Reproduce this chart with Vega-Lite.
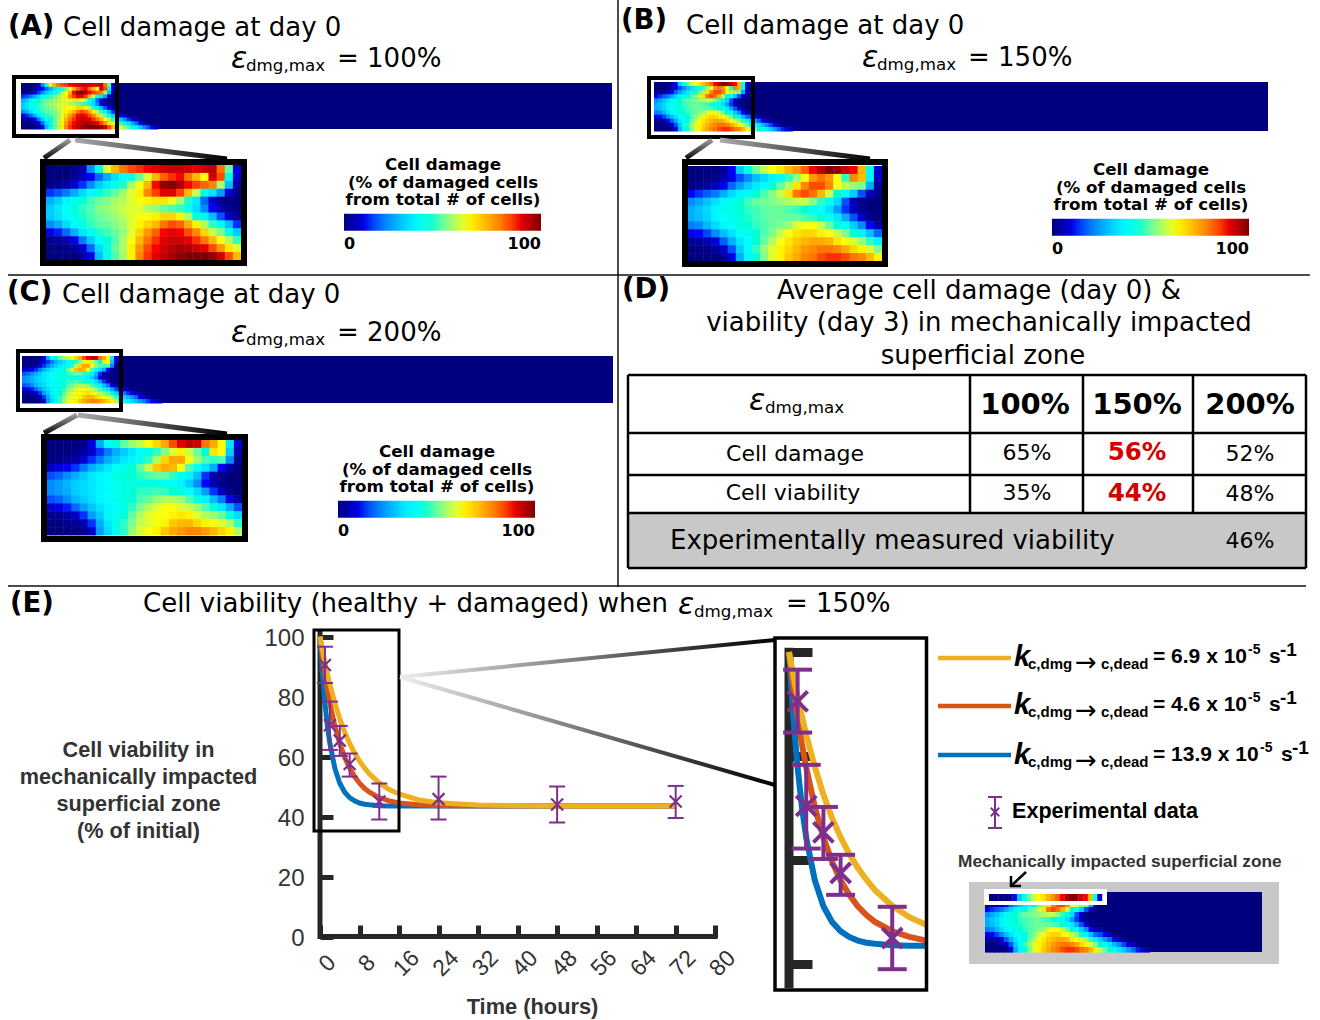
{"$schema":"https://vega.github.io/schema/vega-lite/v6.json","width":1320,"height":1020,"padding":0,"autosize":{"type":"none"},"background":"white",
"config":{"view":{"stroke":null},"axis":{"domain":false,"ticks":false,"labels":false,"grid":false,"titleOpacity":0},
"style":{"h":{"font":"DejaVu Sans","fontSize":26,"align":"left","baseline":"middle","dy":1},"l":{"font":"DejaVu Sans","fontSize":27.5,"fontWeight":"bold","align":"left","baseline":"middle","dy":1},"e":{"font":"DejaVu Sans","fontSize":30,"fontStyle":"italic","align":"left","baseline":"middle"},"s":{"font":"DejaVu Sans","fontSize":16.7,"align":"left","baseline":"middle"},"m":{"font":"DejaVu Sans","fontSize":26,"align":"center","baseline":"middle","dy":1},"c":{"font":"DejaVu Sans","fontSize":22,"align":"center","baseline":"middle"},"b":{"font":"DejaVu Sans","fontSize":29,"fontWeight":"bold","align":"center","baseline":"middle"},"r":{"font":"DejaVu Sans","fontSize":24.5,"fontWeight":"bold","color":"#d40000","align":"center","baseline":"middle"},"k":{"font":"Liberation Sans","fontSize":29,"fontStyle":"italic","fontWeight":"bold","align":"left","baseline":"middle"},"n":{"font":"Liberation Sans","fontSize":15,"fontWeight":"bold","align":"left","baseline":"middle"},"a":{"font":"DejaVu Sans","fontSize":26,"align":"left","baseline":"middle"},"q":{"font":"Liberation Sans","fontSize":21,"fontWeight":"bold","align":"left","baseline":"middle"},"u":{"font":"Liberation Sans","fontSize":14,"fontWeight":"bold","align":"left","baseline":"middle"},"w":{"font":"Liberation Sans","fontSize":19,"fontWeight":"bold","align":"left","baseline":"middle"},"x":{"font":"Liberation Sans","fontSize":21.6,"fontWeight":"bold","align":"left","baseline":"middle"},"z":{"font":"Liberation Sans","fontSize":17.3,"fontWeight":"bold","color":"#333333","align":"left","baseline":"middle"}}},
"data":{"values":[{}]},
"datasets":{
"a":[{"c":0,"r":0,"v":0},{"c":1,"r":0,"v":0},{"c":2,"r":0,"v":0},{"c":3,"r":0,"v":1},{"c":4,"r":0,"v":5},{"c":5,"r":0,"v":22},{"c":6,"r":0,"v":42},{"c":7,"r":0,"v":60},{"c":8,"r":0,"v":72},{"c":9,"r":0,"v":80},{"c":10,"r":0,"v":84},{"c":11,"r":0,"v":86},{"c":12,"r":0,"v":88},{"c":13,"r":0,"v":90},{"c":14,"r":0,"v":92},{"c":15,"r":0,"v":93},{"c":16,"r":0,"v":93},{"c":17,"r":0,"v":92},{"c":18,"r":0,"v":90},{"c":19,"r":0,"v":92},{"c":20,"r":0,"v":94},{"c":21,"r":0,"v":80},{"c":22,"r":0,"v":50},{"c":23,"r":0,"v":10},
{"c":0,"r":1,"v":0},{"c":1,"r":1,"v":0},{"c":2,"r":1,"v":0},{"c":3,"r":1,"v":2},{"c":4,"r":1,"v":6},{"c":5,"r":1,"v":12},{"c":6,"r":1,"v":18},{"c":7,"r":1,"v":26},{"c":8,"r":1,"v":33},{"c":9,"r":1,"v":38},{"c":10,"r":1,"v":42},{"c":11,"r":1,"v":50},{"c":12,"r":1,"v":60},{"c":13,"r":1,"v":72},{"c":14,"r":1,"v":82},{"c":15,"r":1,"v":86},{"c":16,"r":1,"v":88},{"c":17,"r":1,"v":80},{"c":18,"r":1,"v":72},{"c":19,"r":1,"v":62},{"c":20,"r":1,"v":92},{"c":21,"r":1,"v":84},{"c":22,"r":1,"v":42},{"c":23,"r":1,"v":8},
{"c":0,"r":2,"v":1},{"c":1,"r":2,"v":2},{"c":2,"r":2,"v":4},{"c":3,"r":2,"v":8},{"c":4,"r":2,"v":14},{"c":5,"r":2,"v":22},{"c":6,"r":2,"v":30},{"c":7,"r":2,"v":35},{"c":8,"r":2,"v":40},{"c":9,"r":2,"v":45},{"c":10,"r":2,"v":55},{"c":11,"r":2,"v":62},{"c":12,"r":2,"v":72},{"c":13,"r":2,"v":88},{"c":14,"r":2,"v":98},{"c":15,"r":2,"v":100},{"c":16,"r":2,"v":96},{"c":17,"r":2,"v":88},{"c":18,"r":2,"v":85},{"c":19,"r":2,"v":82},{"c":20,"r":2,"v":78},{"c":21,"r":2,"v":55},{"c":22,"r":2,"v":28},{"c":23,"r":2,"v":3},
{"c":0,"r":3,"v":14},{"c":1,"r":3,"v":16},{"c":2,"r":3,"v":20},{"c":3,"r":3,"v":26},{"c":4,"r":3,"v":32},{"c":5,"r":3,"v":38},{"c":6,"r":3,"v":42},{"c":7,"r":3,"v":46},{"c":8,"r":3,"v":50},{"c":9,"r":3,"v":55},{"c":10,"r":3,"v":60},{"c":11,"r":3,"v":64},{"c":12,"r":3,"v":78},{"c":13,"r":3,"v":85},{"c":14,"r":3,"v":90},{"c":15,"r":3,"v":90},{"c":16,"r":3,"v":85},{"c":17,"r":3,"v":72},{"c":18,"r":3,"v":58},{"c":19,"r":3,"v":42},{"c":20,"r":3,"v":34},{"c":21,"r":3,"v":24},{"c":22,"r":3,"v":8},{"c":23,"r":3,"v":1},
{"c":0,"r":4,"v":26},{"c":1,"r":4,"v":30},{"c":2,"r":4,"v":36},{"c":3,"r":4,"v":40},{"c":4,"r":4,"v":44},{"c":5,"r":4,"v":47},{"c":6,"r":4,"v":50},{"c":7,"r":4,"v":52},{"c":8,"r":4,"v":55},{"c":9,"r":4,"v":57},{"c":10,"r":4,"v":60},{"c":11,"r":4,"v":62},{"c":12,"r":4,"v":64},{"c":13,"r":4,"v":66},{"c":14,"r":4,"v":66},{"c":15,"r":4,"v":62},{"c":16,"r":4,"v":55},{"c":17,"r":4,"v":45},{"c":18,"r":4,"v":34},{"c":19,"r":4,"v":18},{"c":20,"r":4,"v":8},{"c":21,"r":4,"v":2},{"c":22,"r":4,"v":0},{"c":23,"r":4,"v":0},
{"c":0,"r":5,"v":30},{"c":1,"r":5,"v":34},{"c":2,"r":5,"v":38},{"c":3,"r":5,"v":42},{"c":4,"r":5,"v":46},{"c":5,"r":5,"v":48},{"c":6,"r":5,"v":52},{"c":7,"r":5,"v":54},{"c":8,"r":5,"v":56},{"c":9,"r":5,"v":58},{"c":10,"r":5,"v":60},{"c":11,"r":5,"v":60},{"c":12,"r":5,"v":56},{"c":13,"r":5,"v":54},{"c":14,"r":5,"v":50},{"c":15,"r":5,"v":48},{"c":16,"r":5,"v":46},{"c":17,"r":5,"v":40},{"c":18,"r":5,"v":32},{"c":19,"r":5,"v":22},{"c":20,"r":5,"v":12},{"c":21,"r":5,"v":5},{"c":22,"r":5,"v":1},{"c":23,"r":5,"v":0},
{"c":0,"r":6,"v":30},{"c":1,"r":6,"v":33},{"c":2,"r":6,"v":37},{"c":3,"r":6,"v":41},{"c":4,"r":6,"v":45},{"c":5,"r":6,"v":48},{"c":6,"r":6,"v":50},{"c":7,"r":6,"v":52},{"c":8,"r":6,"v":54},{"c":9,"r":6,"v":57},{"c":10,"r":6,"v":60},{"c":11,"r":6,"v":62},{"c":12,"r":6,"v":62},{"c":13,"r":6,"v":64},{"c":14,"r":6,"v":68},{"c":15,"r":6,"v":68},{"c":16,"r":6,"v":64},{"c":17,"r":6,"v":56},{"c":18,"r":6,"v":42},{"c":19,"r":6,"v":36},{"c":20,"r":6,"v":28},{"c":21,"r":6,"v":16},{"c":22,"r":6,"v":8},{"c":23,"r":6,"v":2},
{"c":0,"r":7,"v":22},{"c":1,"r":7,"v":26},{"c":2,"r":7,"v":32},{"c":3,"r":7,"v":37},{"c":4,"r":7,"v":42},{"c":5,"r":7,"v":46},{"c":6,"r":7,"v":49},{"c":7,"r":7,"v":50},{"c":8,"r":7,"v":52},{"c":9,"r":7,"v":55},{"c":10,"r":7,"v":60},{"c":11,"r":7,"v":64},{"c":12,"r":7,"v":68},{"c":13,"r":7,"v":72},{"c":14,"r":7,"v":80},{"c":15,"r":7,"v":84},{"c":16,"r":7,"v":82},{"c":17,"r":7,"v":74},{"c":18,"r":7,"v":64},{"c":19,"r":7,"v":56},{"c":20,"r":7,"v":46},{"c":21,"r":7,"v":38},{"c":22,"r":7,"v":28},{"c":23,"r":7,"v":14},
{"c":0,"r":8,"v":10},{"c":1,"r":8,"v":13},{"c":2,"r":8,"v":18},{"c":3,"r":8,"v":26},{"c":4,"r":8,"v":34},{"c":5,"r":8,"v":40},{"c":6,"r":8,"v":45},{"c":7,"r":8,"v":47},{"c":8,"r":8,"v":50},{"c":9,"r":8,"v":54},{"c":10,"r":8,"v":60},{"c":11,"r":8,"v":68},{"c":12,"r":8,"v":76},{"c":13,"r":8,"v":82},{"c":14,"r":8,"v":88},{"c":15,"r":8,"v":90},{"c":16,"r":8,"v":88},{"c":17,"r":8,"v":84},{"c":18,"r":8,"v":78},{"c":19,"r":8,"v":68},{"c":20,"r":8,"v":58},{"c":21,"r":8,"v":52},{"c":22,"r":8,"v":42},{"c":23,"r":8,"v":30},
{"c":0,"r":9,"v":2},{"c":1,"r":9,"v":3},{"c":2,"r":9,"v":5},{"c":3,"r":9,"v":10},{"c":4,"r":9,"v":20},{"c":5,"r":9,"v":30},{"c":6,"r":9,"v":38},{"c":7,"r":9,"v":44},{"c":8,"r":9,"v":48},{"c":9,"r":9,"v":56},{"c":10,"r":9,"v":62},{"c":11,"r":9,"v":72},{"c":12,"r":9,"v":80},{"c":13,"r":9,"v":86},{"c":14,"r":9,"v":90},{"c":15,"r":9,"v":92},{"c":16,"r":9,"v":92},{"c":17,"r":9,"v":90},{"c":18,"r":9,"v":86},{"c":19,"r":9,"v":80},{"c":20,"r":9,"v":72},{"c":21,"r":9,"v":62},{"c":22,"r":9,"v":56},{"c":23,"r":9,"v":46},
{"c":0,"r":10,"v":0},{"c":1,"r":10,"v":1},{"c":2,"r":10,"v":1},{"c":3,"r":10,"v":3},{"c":4,"r":10,"v":8},{"c":5,"r":10,"v":18},{"c":6,"r":10,"v":32},{"c":7,"r":10,"v":42},{"c":8,"r":10,"v":50},{"c":9,"r":10,"v":56},{"c":10,"r":10,"v":64},{"c":11,"r":10,"v":76},{"c":12,"r":10,"v":84},{"c":13,"r":10,"v":88},{"c":14,"r":10,"v":92},{"c":15,"r":10,"v":94},{"c":16,"r":10,"v":96},{"c":17,"r":10,"v":95},{"c":18,"r":10,"v":92},{"c":19,"r":10,"v":90},{"c":20,"r":10,"v":84},{"c":21,"r":10,"v":76},{"c":22,"r":10,"v":66},{"c":23,"r":10,"v":60},
{"c":0,"r":11,"v":0},{"c":1,"r":11,"v":0},{"c":2,"r":11,"v":0},{"c":3,"r":11,"v":0},{"c":4,"r":11,"v":3},{"c":5,"r":11,"v":10},{"c":6,"r":11,"v":28},{"c":7,"r":11,"v":40},{"c":8,"r":11,"v":48},{"c":9,"r":11,"v":55},{"c":10,"r":11,"v":64},{"c":11,"r":11,"v":78},{"c":12,"r":11,"v":86},{"c":13,"r":11,"v":90},{"c":14,"r":11,"v":93},{"c":15,"r":11,"v":96},{"c":16,"r":11,"v":98},{"c":17,"r":11,"v":100},{"c":18,"r":11,"v":100},{"c":19,"r":11,"v":100},{"c":20,"r":11,"v":98},{"c":21,"r":11,"v":92},{"c":22,"r":11,"v":84},{"c":23,"r":11,"v":72},
{"c":24,"r":7,"v":6},{"c":24,"r":8,"v":20},{"c":24,"r":9,"v":38},{"c":24,"r":10,"v":52},{"c":24,"r":11,"v":68},{"c":25,"r":8,"v":12},{"c":25,"r":9,"v":30},{"c":25,"r":10,"v":46},{"c":25,"r":11,"v":60},{"c":26,"r":8,"v":6},{"c":26,"r":9,"v":22},{"c":26,"r":10,"v":40},{"c":26,"r":11,"v":54},{"c":27,"r":9,"v":14},{"c":27,"r":10,"v":34},{"c":27,"r":11,"v":48},{"c":28,"r":9,"v":8},{"c":28,"r":10,"v":26},{"c":28,"r":11,"v":42},{"c":29,"r":9,"v":4},{"c":29,"r":10,"v":18},{"c":29,"r":11,"v":36},{"c":30,"r":10,"v":12},{"c":30,"r":11,"v":30},{"c":31,"r":10,"v":6},{"c":31,"r":11,"v":22},{"c":32,"r":11,"v":16},{"c":33,"r":11,"v":10},{"c":34,"r":11,"v":6}],
"b":[{"c":0,"r":0,"v":0},{"c":1,"r":0,"v":0},{"c":2,"r":0,"v":0},{"c":3,"r":0,"v":0},{"c":4,"r":0,"v":2},{"c":5,"r":0,"v":12},{"c":6,"r":0,"v":30},{"c":7,"r":0,"v":42},{"c":8,"r":0,"v":50},{"c":9,"r":0,"v":58},{"c":10,"r":0,"v":62},{"c":11,"r":0,"v":66},{"c":12,"r":0,"v":72},{"c":13,"r":0,"v":76},{"c":14,"r":0,"v":82},{"c":15,"r":0,"v":88},{"c":16,"r":0,"v":94},{"c":17,"r":0,"v":100},{"c":18,"r":0,"v":98},{"c":19,"r":0,"v":92},{"c":20,"r":0,"v":88},{"c":21,"r":0,"v":72},{"c":22,"r":0,"v":40},{"c":23,"r":0,"v":8},
{"c":0,"r":1,"v":0},{"c":1,"r":1,"v":0},{"c":2,"r":1,"v":0},{"c":3,"r":1,"v":1},{"c":4,"r":1,"v":5},{"c":5,"r":1,"v":10},{"c":6,"r":1,"v":16},{"c":7,"r":1,"v":22},{"c":8,"r":1,"v":28},{"c":9,"r":1,"v":32},{"c":10,"r":1,"v":36},{"c":11,"r":1,"v":40},{"c":12,"r":1,"v":46},{"c":13,"r":1,"v":54},{"c":14,"r":1,"v":62},{"c":15,"r":1,"v":76},{"c":16,"r":1,"v":80},{"c":17,"r":1,"v":76},{"c":18,"r":1,"v":62},{"c":19,"r":1,"v":46},{"c":20,"r":1,"v":78},{"c":21,"r":1,"v":72},{"c":22,"r":1,"v":36},{"c":23,"r":1,"v":6},
{"c":0,"r":2,"v":1},{"c":1,"r":2,"v":2},{"c":2,"r":2,"v":3},{"c":3,"r":2,"v":6},{"c":4,"r":2,"v":12},{"c":5,"r":2,"v":18},{"c":6,"r":2,"v":24},{"c":7,"r":2,"v":30},{"c":8,"r":2,"v":34},{"c":9,"r":2,"v":38},{"c":10,"r":2,"v":44},{"c":11,"r":2,"v":50},{"c":12,"r":2,"v":56},{"c":13,"r":2,"v":66},{"c":14,"r":2,"v":78},{"c":15,"r":2,"v":84},{"c":16,"r":2,"v":84},{"c":17,"r":2,"v":78},{"c":18,"r":2,"v":62},{"c":19,"r":2,"v":58},{"c":20,"r":2,"v":54},{"c":21,"r":2,"v":52},{"c":22,"r":2,"v":26},{"c":23,"r":2,"v":3},
{"c":0,"r":3,"v":12},{"c":1,"r":3,"v":14},{"c":2,"r":3,"v":17},{"c":3,"r":3,"v":20},{"c":4,"r":3,"v":26},{"c":5,"r":3,"v":32},{"c":6,"r":3,"v":36},{"c":7,"r":3,"v":40},{"c":8,"r":3,"v":44},{"c":9,"r":3,"v":48},{"c":10,"r":3,"v":52},{"c":11,"r":3,"v":58},{"c":12,"r":3,"v":66},{"c":13,"r":3,"v":80},{"c":14,"r":3,"v":84},{"c":15,"r":3,"v":80},{"c":16,"r":3,"v":72},{"c":17,"r":3,"v":58},{"c":18,"r":3,"v":44},{"c":19,"r":3,"v":40},{"c":20,"r":3,"v":30},{"c":21,"r":3,"v":16},{"c":22,"r":3,"v":6},{"c":23,"r":3,"v":1},
{"c":0,"r":4,"v":22},{"c":1,"r":4,"v":25},{"c":2,"r":4,"v":29},{"c":3,"r":4,"v":33},{"c":4,"r":4,"v":37},{"c":5,"r":4,"v":41},{"c":6,"r":4,"v":44},{"c":7,"r":4,"v":47},{"c":8,"r":4,"v":50},{"c":9,"r":4,"v":51},{"c":10,"r":4,"v":52},{"c":11,"r":4,"v":54},{"c":12,"r":4,"v":56},{"c":13,"r":4,"v":58},{"c":14,"r":4,"v":58},{"c":15,"r":4,"v":52},{"c":16,"r":4,"v":46},{"c":17,"r":4,"v":40},{"c":18,"r":4,"v":32},{"c":19,"r":4,"v":16},{"c":20,"r":4,"v":6},{"c":21,"r":4,"v":1},{"c":22,"r":4,"v":0},{"c":23,"r":4,"v":0},
{"c":0,"r":5,"v":26},{"c":1,"r":5,"v":29},{"c":2,"r":5,"v":32},{"c":3,"r":5,"v":36},{"c":4,"r":5,"v":40},{"c":5,"r":5,"v":42},{"c":6,"r":5,"v":44},{"c":7,"r":5,"v":46},{"c":8,"r":5,"v":47},{"c":9,"r":5,"v":49},{"c":10,"r":5,"v":50},{"c":11,"r":5,"v":50},{"c":12,"r":5,"v":48},{"c":13,"r":5,"v":46},{"c":14,"r":5,"v":44},{"c":15,"r":5,"v":40},{"c":16,"r":5,"v":38},{"c":17,"r":5,"v":33},{"c":18,"r":5,"v":24},{"c":19,"r":5,"v":14},{"c":20,"r":5,"v":6},{"c":21,"r":5,"v":2},{"c":22,"r":5,"v":0},{"c":23,"r":5,"v":0},
{"c":0,"r":6,"v":26},{"c":1,"r":6,"v":28},{"c":2,"r":6,"v":31},{"c":3,"r":6,"v":36},{"c":4,"r":6,"v":38},{"c":5,"r":6,"v":41},{"c":6,"r":6,"v":43},{"c":7,"r":6,"v":45},{"c":8,"r":6,"v":47},{"c":9,"r":6,"v":49},{"c":10,"r":6,"v":50},{"c":11,"r":6,"v":50},{"c":12,"r":6,"v":50},{"c":13,"r":6,"v":50},{"c":14,"r":6,"v":48},{"c":15,"r":6,"v":46},{"c":16,"r":6,"v":44},{"c":17,"r":6,"v":40},{"c":18,"r":6,"v":34},{"c":19,"r":6,"v":26},{"c":20,"r":6,"v":16},{"c":21,"r":6,"v":8},{"c":22,"r":6,"v":2},{"c":23,"r":6,"v":0},
{"c":0,"r":7,"v":20},{"c":1,"r":7,"v":22},{"c":2,"r":7,"v":27},{"c":3,"r":7,"v":32},{"c":4,"r":7,"v":36},{"c":5,"r":7,"v":39},{"c":6,"r":7,"v":42},{"c":7,"r":7,"v":44},{"c":8,"r":7,"v":46},{"c":9,"r":7,"v":48},{"c":10,"r":7,"v":50},{"c":11,"r":7,"v":52},{"c":12,"r":7,"v":54},{"c":13,"r":7,"v":60},{"c":14,"r":7,"v":62},{"c":15,"r":7,"v":62},{"c":16,"r":7,"v":58},{"c":17,"r":7,"v":50},{"c":18,"r":7,"v":44},{"c":19,"r":7,"v":38},{"c":20,"r":7,"v":30},{"c":21,"r":7,"v":22},{"c":22,"r":7,"v":12},{"c":23,"r":7,"v":4},
{"c":0,"r":8,"v":10},{"c":1,"r":8,"v":12},{"c":2,"r":8,"v":15},{"c":3,"r":8,"v":22},{"c":4,"r":8,"v":28},{"c":5,"r":8,"v":33},{"c":6,"r":8,"v":38},{"c":7,"r":8,"v":40},{"c":8,"r":8,"v":44},{"c":9,"r":8,"v":48},{"c":10,"r":8,"v":52},{"c":11,"r":8,"v":58},{"c":12,"r":8,"v":62},{"c":13,"r":8,"v":66},{"c":14,"r":8,"v":68},{"c":15,"r":8,"v":68},{"c":16,"r":8,"v":64},{"c":17,"r":8,"v":62},{"c":18,"r":8,"v":58},{"c":19,"r":8,"v":52},{"c":20,"r":8,"v":44},{"c":21,"r":8,"v":36},{"c":22,"r":8,"v":28},{"c":23,"r":8,"v":18},
{"c":0,"r":9,"v":2},{"c":1,"r":9,"v":3},{"c":2,"r":9,"v":5},{"c":3,"r":9,"v":9},{"c":4,"r":9,"v":17},{"c":5,"r":9,"v":26},{"c":6,"r":9,"v":34},{"c":7,"r":9,"v":38},{"c":8,"r":9,"v":44},{"c":9,"r":9,"v":50},{"c":10,"r":9,"v":56},{"c":11,"r":9,"v":62},{"c":12,"r":9,"v":66},{"c":13,"r":9,"v":70},{"c":14,"r":9,"v":72},{"c":15,"r":9,"v":74},{"c":16,"r":9,"v":74},{"c":17,"r":9,"v":72},{"c":18,"r":9,"v":66},{"c":19,"r":9,"v":62},{"c":20,"r":9,"v":60},{"c":21,"r":9,"v":54},{"c":22,"r":9,"v":46},{"c":23,"r":9,"v":36},
{"c":0,"r":10,"v":0},{"c":1,"r":10,"v":1},{"c":2,"r":10,"v":1},{"c":3,"r":10,"v":3},{"c":4,"r":10,"v":7},{"c":5,"r":10,"v":16},{"c":6,"r":10,"v":30},{"c":7,"r":10,"v":38},{"c":8,"r":10,"v":46},{"c":9,"r":10,"v":54},{"c":10,"r":10,"v":60},{"c":11,"r":10,"v":64},{"c":12,"r":10,"v":68},{"c":13,"r":10,"v":72},{"c":14,"r":10,"v":76},{"c":15,"r":10,"v":78},{"c":16,"r":10,"v":80},{"c":17,"r":10,"v":80},{"c":18,"r":10,"v":78},{"c":19,"r":10,"v":74},{"c":20,"r":10,"v":68},{"c":21,"r":10,"v":64},{"c":22,"r":10,"v":60},{"c":23,"r":10,"v":52},
{"c":0,"r":11,"v":0},{"c":1,"r":11,"v":0},{"c":2,"r":11,"v":0},{"c":3,"r":11,"v":0},{"c":4,"r":11,"v":2},{"c":5,"r":11,"v":10},{"c":6,"r":11,"v":26},{"c":7,"r":11,"v":36},{"c":8,"r":11,"v":44},{"c":9,"r":11,"v":52},{"c":10,"r":11,"v":60},{"c":11,"r":11,"v":64},{"c":12,"r":11,"v":70},{"c":13,"r":11,"v":74},{"c":14,"r":11,"v":78},{"c":15,"r":11,"v":80},{"c":16,"r":11,"v":84},{"c":17,"r":11,"v":86},{"c":18,"r":11,"v":86},{"c":19,"r":11,"v":84},{"c":20,"r":11,"v":80},{"c":21,"r":11,"v":78},{"c":22,"r":11,"v":72},{"c":23,"r":11,"v":64},
{"c":24,"r":7,"v":5},{"c":24,"r":8,"v":16},{"c":24,"r":9,"v":30},{"c":24,"r":10,"v":44},{"c":24,"r":11,"v":56},{"c":25,"r":8,"v":10},{"c":25,"r":9,"v":24},{"c":25,"r":10,"v":38},{"c":25,"r":11,"v":50},{"c":26,"r":8,"v":5},{"c":26,"r":9,"v":18},{"c":26,"r":10,"v":34},{"c":26,"r":11,"v":44},{"c":27,"r":9,"v":12},{"c":27,"r":10,"v":28},{"c":27,"r":11,"v":40},{"c":28,"r":9,"v":7},{"c":28,"r":10,"v":22},{"c":28,"r":11,"v":34},{"c":29,"r":9,"v":3},{"c":29,"r":10,"v":15},{"c":29,"r":11,"v":30},{"c":30,"r":10,"v":10},{"c":30,"r":11,"v":24},{"c":31,"r":10,"v":5},{"c":31,"r":11,"v":18},{"c":32,"r":11,"v":13},{"c":33,"r":11,"v":8},{"c":34,"r":11,"v":5}],
"g":[{"c":0,"r":0,"v":0},{"c":1,"r":0,"v":0},{"c":2,"r":0,"v":0},{"c":3,"r":0,"v":0},{"c":4,"r":0,"v":1},{"c":5,"r":0,"v":10},{"c":6,"r":0,"v":26},{"c":7,"r":0,"v":38},{"c":8,"r":0,"v":44},{"c":9,"r":0,"v":50},{"c":10,"r":0,"v":54},{"c":11,"r":0,"v":58},{"c":12,"r":0,"v":62},{"c":13,"r":0,"v":68},{"c":14,"r":0,"v":74},{"c":15,"r":0,"v":84},{"c":16,"r":0,"v":90},{"c":17,"r":0,"v":94},{"c":18,"r":0,"v":92},{"c":19,"r":0,"v":80},{"c":20,"r":0,"v":74},{"c":21,"r":0,"v":62},{"c":22,"r":0,"v":34},{"c":23,"r":0,"v":8},
{"c":0,"r":1,"v":0},{"c":1,"r":1,"v":0},{"c":2,"r":1,"v":0},{"c":3,"r":1,"v":1},{"c":4,"r":1,"v":3},{"c":5,"r":1,"v":8},{"c":6,"r":1,"v":14},{"c":7,"r":1,"v":20},{"c":8,"r":1,"v":26},{"c":9,"r":1,"v":30},{"c":10,"r":1,"v":34},{"c":11,"r":1,"v":38},{"c":12,"r":1,"v":42},{"c":13,"r":1,"v":46},{"c":14,"r":1,"v":52},{"c":15,"r":1,"v":60},{"c":16,"r":1,"v":64},{"c":17,"r":1,"v":58},{"c":18,"r":1,"v":50},{"c":19,"r":1,"v":44},{"c":20,"r":1,"v":66},{"c":21,"r":1,"v":62},{"c":22,"r":1,"v":30},{"c":23,"r":1,"v":5},
{"c":0,"r":2,"v":0},{"c":1,"r":2,"v":1},{"c":2,"r":2,"v":2},{"c":3,"r":2,"v":4},{"c":4,"r":2,"v":8},{"c":5,"r":2,"v":14},{"c":6,"r":2,"v":20},{"c":7,"r":2,"v":26},{"c":8,"r":2,"v":30},{"c":9,"r":2,"v":34},{"c":10,"r":2,"v":36},{"c":11,"r":2,"v":40},{"c":12,"r":2,"v":46},{"c":13,"r":2,"v":56},{"c":14,"r":2,"v":68},{"c":15,"r":2,"v":74},{"c":16,"r":2,"v":74},{"c":17,"r":2,"v":62},{"c":18,"r":2,"v":54},{"c":19,"r":2,"v":48},{"c":20,"r":2,"v":46},{"c":21,"r":2,"v":48},{"c":22,"r":2,"v":22},{"c":23,"r":2,"v":2},
{"c":0,"r":3,"v":7},{"c":1,"r":3,"v":9},{"c":2,"r":3,"v":11},{"c":3,"r":3,"v":14},{"c":4,"r":3,"v":20},{"c":5,"r":3,"v":26},{"c":6,"r":3,"v":30},{"c":7,"r":3,"v":34},{"c":8,"r":3,"v":38},{"c":9,"r":3,"v":40},{"c":10,"r":3,"v":44},{"c":11,"r":3,"v":50},{"c":12,"r":3,"v":58},{"c":13,"r":3,"v":70},{"c":14,"r":3,"v":74},{"c":15,"r":3,"v":72},{"c":16,"r":3,"v":62},{"c":17,"r":3,"v":48},{"c":18,"r":3,"v":38},{"c":19,"r":3,"v":34},{"c":20,"r":3,"v":26},{"c":21,"r":3,"v":12},{"c":22,"r":3,"v":4},{"c":23,"r":3,"v":0},
{"c":0,"r":4,"v":16},{"c":1,"r":4,"v":18},{"c":2,"r":4,"v":22},{"c":3,"r":4,"v":26},{"c":4,"r":4,"v":30},{"c":5,"r":4,"v":34},{"c":6,"r":4,"v":36},{"c":7,"r":4,"v":38},{"c":8,"r":4,"v":42},{"c":9,"r":4,"v":44},{"c":10,"r":4,"v":44},{"c":11,"r":4,"v":46},{"c":12,"r":4,"v":48},{"c":13,"r":4,"v":50},{"c":14,"r":4,"v":50},{"c":15,"r":4,"v":46},{"c":16,"r":4,"v":40},{"c":17,"r":4,"v":36},{"c":18,"r":4,"v":28},{"c":19,"r":4,"v":14},{"c":20,"r":4,"v":4},{"c":21,"r":4,"v":1},{"c":22,"r":4,"v":0},{"c":23,"r":4,"v":0},
{"c":0,"r":5,"v":22},{"c":1,"r":5,"v":24},{"c":2,"r":5,"v":27},{"c":3,"r":5,"v":30},{"c":4,"r":5,"v":32},{"c":5,"r":5,"v":34},{"c":6,"r":5,"v":36},{"c":7,"r":5,"v":38},{"c":8,"r":5,"v":40},{"c":9,"r":5,"v":42},{"c":10,"r":5,"v":42},{"c":11,"r":5,"v":42},{"c":12,"r":5,"v":42},{"c":13,"r":5,"v":42},{"c":14,"r":5,"v":40},{"c":15,"r":5,"v":38},{"c":16,"r":5,"v":36},{"c":17,"r":5,"v":30},{"c":18,"r":5,"v":22},{"c":19,"r":5,"v":12},{"c":20,"r":5,"v":5},{"c":21,"r":5,"v":1},{"c":22,"r":5,"v":0},{"c":23,"r":5,"v":0},
{"c":0,"r":6,"v":22},{"c":1,"r":6,"v":24},{"c":2,"r":6,"v":26},{"c":3,"r":6,"v":30},{"c":4,"r":6,"v":32},{"c":5,"r":6,"v":34},{"c":6,"r":6,"v":36},{"c":7,"r":6,"v":38},{"c":8,"r":6,"v":40},{"c":9,"r":6,"v":42},{"c":10,"r":6,"v":44},{"c":11,"r":6,"v":46},{"c":12,"r":6,"v":46},{"c":13,"r":6,"v":47},{"c":14,"r":6,"v":46},{"c":15,"r":6,"v":44},{"c":16,"r":6,"v":42},{"c":17,"r":6,"v":38},{"c":18,"r":6,"v":32},{"c":19,"r":6,"v":24},{"c":20,"r":6,"v":14},{"c":21,"r":6,"v":6},{"c":22,"r":6,"v":1},{"c":23,"r":6,"v":0},
{"c":0,"r":7,"v":16},{"c":1,"r":7,"v":18},{"c":2,"r":7,"v":22},{"c":3,"r":7,"v":27},{"c":4,"r":7,"v":30},{"c":5,"r":7,"v":33},{"c":6,"r":7,"v":36},{"c":7,"r":7,"v":37},{"c":8,"r":7,"v":40},{"c":9,"r":7,"v":42},{"c":10,"r":7,"v":44},{"c":11,"r":7,"v":48},{"c":12,"r":7,"v":50},{"c":13,"r":7,"v":54},{"c":14,"r":7,"v":56},{"c":15,"r":7,"v":56},{"c":16,"r":7,"v":54},{"c":17,"r":7,"v":48},{"c":18,"r":7,"v":42},{"c":19,"r":7,"v":36},{"c":20,"r":7,"v":28},{"c":21,"r":7,"v":20},{"c":22,"r":7,"v":10},{"c":23,"r":7,"v":3},
{"c":0,"r":8,"v":8},{"c":1,"r":8,"v":10},{"c":2,"r":8,"v":13},{"c":3,"r":8,"v":18},{"c":4,"r":8,"v":24},{"c":5,"r":8,"v":29},{"c":6,"r":8,"v":33},{"c":7,"r":8,"v":36},{"c":8,"r":8,"v":38},{"c":9,"r":8,"v":42},{"c":10,"r":8,"v":46},{"c":11,"r":8,"v":52},{"c":12,"r":8,"v":56},{"c":13,"r":8,"v":60},{"c":14,"r":8,"v":62},{"c":15,"r":8,"v":62},{"c":16,"r":8,"v":60},{"c":17,"r":8,"v":58},{"c":18,"r":8,"v":54},{"c":19,"r":8,"v":48},{"c":20,"r":8,"v":42},{"c":21,"r":8,"v":34},{"c":22,"r":8,"v":26},{"c":23,"r":8,"v":16},
{"c":0,"r":9,"v":2},{"c":1,"r":9,"v":2},{"c":2,"r":9,"v":4},{"c":3,"r":9,"v":7},{"c":4,"r":9,"v":14},{"c":5,"r":9,"v":24},{"c":6,"r":9,"v":30},{"c":7,"r":9,"v":36},{"c":8,"r":9,"v":40},{"c":9,"r":9,"v":44},{"c":10,"r":9,"v":50},{"c":11,"r":9,"v":56},{"c":12,"r":9,"v":60},{"c":13,"r":9,"v":62},{"c":14,"r":9,"v":62},{"c":15,"r":9,"v":64},{"c":16,"r":9,"v":66},{"c":17,"r":9,"v":64},{"c":18,"r":9,"v":60},{"c":19,"r":9,"v":56},{"c":20,"r":9,"v":54},{"c":21,"r":9,"v":50},{"c":22,"r":9,"v":42},{"c":23,"r":9,"v":32},
{"c":0,"r":10,"v":0},{"c":1,"r":10,"v":0},{"c":2,"r":10,"v":1},{"c":3,"r":10,"v":2},{"c":4,"r":10,"v":5},{"c":5,"r":10,"v":14},{"c":6,"r":10,"v":26},{"c":7,"r":10,"v":34},{"c":8,"r":10,"v":42},{"c":9,"r":10,"v":46},{"c":10,"r":10,"v":52},{"c":11,"r":10,"v":58},{"c":12,"r":10,"v":60},{"c":13,"r":10,"v":62},{"c":14,"r":10,"v":64},{"c":15,"r":10,"v":70},{"c":16,"r":10,"v":72},{"c":17,"r":10,"v":72},{"c":18,"r":10,"v":68},{"c":19,"r":10,"v":64},{"c":20,"r":10,"v":62},{"c":21,"r":10,"v":60},{"c":22,"r":10,"v":56},{"c":23,"r":10,"v":46},
{"c":0,"r":11,"v":0},{"c":1,"r":11,"v":0},{"c":2,"r":11,"v":0},{"c":3,"r":11,"v":0},{"c":4,"r":11,"v":2},{"c":5,"r":11,"v":8},{"c":6,"r":11,"v":24},{"c":7,"r":11,"v":32},{"c":8,"r":11,"v":40},{"c":9,"r":11,"v":46},{"c":10,"r":11,"v":54},{"c":11,"r":11,"v":60},{"c":12,"r":11,"v":62},{"c":13,"r":11,"v":64},{"c":14,"r":11,"v":70},{"c":15,"r":11,"v":74},{"c":16,"r":11,"v":76},{"c":17,"r":11,"v":78},{"c":18,"r":11,"v":78},{"c":19,"r":11,"v":76},{"c":20,"r":11,"v":72},{"c":21,"r":11,"v":68},{"c":22,"r":11,"v":64},{"c":23,"r":11,"v":56},
{"c":24,"r":7,"v":4},{"c":24,"r":8,"v":12},{"c":24,"r":9,"v":24},{"c":24,"r":10,"v":36},{"c":24,"r":11,"v":46},{"c":25,"r":8,"v":8},{"c":25,"r":9,"v":20},{"c":25,"r":10,"v":32},{"c":25,"r":11,"v":40},{"c":26,"r":8,"v":4},{"c":26,"r":9,"v":14},{"c":26,"r":10,"v":28},{"c":26,"r":11,"v":36},{"c":27,"r":9,"v":10},{"c":27,"r":10,"v":24},{"c":27,"r":11,"v":32},{"c":28,"r":9,"v":6},{"c":28,"r":10,"v":18},{"c":28,"r":11,"v":28},{"c":29,"r":9,"v":3},{"c":29,"r":10,"v":12},{"c":29,"r":11,"v":24},{"c":30,"r":10,"v":8},{"c":30,"r":11,"v":20},{"c":31,"r":10,"v":4},{"c":31,"r":11,"v":15},{"c":32,"r":11,"v":11},{"c":33,"r":11,"v":7},{"c":34,"r":11,"v":4}],
"curves":[{"k":"b","t":0,"v":100},{"k":"b","t":0.5,"v":87.5},{"k":"b","t":1,"v":77.8},{"k":"b","t":1.5,"v":70.2},{"k":"b","t":2,"v":64.3},{"k":"b","t":3,"v":56.1},{"k":"b","t":4,"v":51.1},{"k":"b","t":5,"v":48.1},{"k":"b","t":6,"v":46.3},{"k":"b","t":7,"v":45.2},{"k":"b","t":8,"v":44.5},{"k":"b","t":9,"v":44.1},{"k":"b","t":10,"v":43.9},{"k":"b","t":12,"v":43.6},{"k":"b","t":14,"v":43.5},{"k":"b","t":16,"v":43.5},{"k":"b","t":24,"v":43.5},{"k":"b","t":48,"v":43.5},{"k":"b","t":72,"v":43.5},
{"k":"o","t":0,"v":100},{"k":"o","t":0.5,"v":93.3},{"k":"o","t":1,"v":87.5},{"k":"o","t":1.5,"v":82.3},{"k":"o","t":2,"v":77.8},{"k":"o","t":3,"v":70.2},{"k":"o","t":4,"v":64.3},{"k":"o","t":5,"v":59.7},{"k":"o","t":6,"v":56.1},{"k":"o","t":7,"v":53.3},{"k":"o","t":8,"v":51.1},{"k":"o","t":9,"v":49.4},{"k":"o","t":10,"v":48.1},{"k":"o","t":12,"v":46.3},{"k":"o","t":14,"v":45.2},{"k":"o","t":16,"v":44.5},{"k":"o","t":20,"v":43.9},{"k":"o","t":24,"v":43.6},{"k":"o","t":48,"v":43.5},{"k":"o","t":72,"v":43.5},
{"k":"y","t":0,"v":100},{"k":"y","t":0.5,"v":95.5},{"k":"y","t":1,"v":91.4},{"k":"y","t":1.5,"v":87.6},{"k":"y","t":2,"v":84.1},{"k":"y","t":3,"v":77.9},{"k":"y","t":4,"v":72.6},{"k":"y","t":5,"v":68.1},{"k":"y","t":6,"v":64.4},{"k":"y","t":7,"v":61.2},{"k":"y","t":8,"v":58.5},{"k":"y","t":9,"v":56.2},{"k":"y","t":10,"v":54.2},{"k":"y","t":12,"v":51.2},{"k":"y","t":14,"v":49},{"k":"y","t":16,"v":47.5},{"k":"y","t":20,"v":45.5},{"k":"y","t":24,"v":44.6},{"k":"y","t":32,"v":43.8},{"k":"y","t":48,"v":43.5},{"k":"y","t":72,"v":43.5}],
"exp":[{"t":1,"v":90.5,"lo":84.5,"hi":96.6},{"t":2,"v":70.4,"lo":62.2,"hi":78.3},{"t":4,"v":65.3,"lo":60.2,"hi":70.2},{"t":6,"v":57.5,"lo":53.3,"hi":61},{"t":12,"v":45,"lo":39,"hi":51},{"t":24,"v":45.8,"lo":39,"hi":53.3},{"t":48,"v":44,"lo":38,"hi":50},{"t":72,"v":45,"lo":39.5,"hi":50.2}]
},
"resolve":{"scale":{"x":"independent","y":"independent","color":"independent"},"axis":{"x":"independent","y":"independent"},"legend":{"color":"independent"}},
"layer":[
{"layer":[
{"mark":{"type":"rect","fill":"#00007f"},"encoding":{"x":{"datum":21,"scale":{"domain":[0,1320],"nice":false}},"x2":{"datum":612},"y":{"datum":83,"scale":{"domain":[0,1020],"reverse":true,"nice":false}},"y2":{"datum":129}}},
{"mark":{"type":"rect","fill":"#00007f"},"encoding":{"x":{"datum":654},"x2":{"datum":1268},"y":{"datum":82},"y2":{"datum":131}}},
{"mark":{"type":"rect","fill":"#00007f"},"encoding":{"x":{"datum":22},"x2":{"datum":613},"y":{"datum":356},"y2":{"datum":403}}},
{"mark":{"type":"rect","fill":"#c8c8c8"},"encoding":{"x":{"datum":969},"x2":{"datum":1279},"y":{"datum":882},"y2":{"datum":964}}},
{"mark":{"type":"rect","fill":"#00007f"},"encoding":{"x":{"datum":985},"x2":{"datum":1262},"y":{"datum":892},"y2":{"datum":952}}},
{"mark":{"type":"rect","fill":"#c8c8c8"},"encoding":{"x":{"datum":628},"x2":{"datum":1306},"y":{"datum":513},"y2":{"datum":568}}}
]},
{"data":{"name":"a"},"transform":[{"calculate":"datum.c+1.12","as":"c2"},{"calculate":"datum.r+1.12","as":"r2"}],"mark":"rect","encoding":{"x":{"field":"c","type":"quantitative","axis":null,"scale":{"domain":[-5.362,331.66]}},"x2":{"field":"c2"},"y":{"field":"r","type":"quantitative","axis":null,"scale":{"domain":[-21.652,244.43],"reverse":true}},"y2":{"field":"r2"},"color":{"field":"v","type":"quantitative","scale":{"domain":[0,12.5,37.5,62.5,87.5,100],"range":["#00007f","#0000ff","#00ffff","#ffff00","#ff0000","#7f0000"]},"legend":null}}},
{"data":{"name":"a"},"transform":[{"filter":"datum.c<24"},{"calculate":"datum.c+1.06","as":"c2"},{"calculate":"datum.r+1.06","as":"r2"}],"mark":"rect","encoding":{"x":{"field":"c","type":"quantitative","axis":null,"scale":{"domain":[-5.6615,156.8]}},"x2":{"field":"c2"},"y":{"field":"r","type":"quantitative","axis":null,"scale":{"domain":[-20.842,108],"reverse":true}},"y2":{"field":"r2"},"color":{"field":"v","type":"quantitative","scale":{"domain":[0,12.5,37.5,62.5,87.5,100],"range":["#00007f","#0000ff","#00ffff","#ffff00","#ff0000","#7f0000"]},"legend":{"orient":"none","legendX":344,"legendY":157,"direction":"horizontal","gradientLength":197,"gradientThickness":17,"values":[0,100],"title":["Cell damage","(% of damaged cells","from total # of cells)"],"titleFont":"DejaVu Sans","titleFontWeight":"bold","titleFontSize":16.7,"titleLineHeight":17.5,"titleAnchor":"middle","titleAlign":"center","titleLimit":400,"titleColor":"black","labelFont":"DejaVu Sans","labelFontWeight":"bold","labelFontSize":16,"labelColor":"black","labelOffset":5,"encoding":{"labels":{"update":{"align":{"value":"center"}}}}}}}},
{"data":{"name":"b"},"transform":[{"calculate":"datum.c+1.12","as":"c2"},{"calculate":"datum.r+1.12","as":"r2"}],"mark":"rect","encoding":{"x":{"field":"c","type":"quantitative","axis":null,"scale":{"domain":[-165.22,168.25]}},"x2":{"field":"c2"},"y":{"field":"r","type":"quantitative","axis":null,"scale":{"domain":[-20.082,229.71],"reverse":true}},"y2":{"field":"r2"},"color":{"field":"v","type":"quantitative","scale":{"domain":[0,12.5,37.5,62.5,87.5,100],"range":["#00007f","#0000ff","#00ffff","#ffff00","#ff0000","#7f0000"]},"legend":null}}},
{"data":{"name":"b"},"transform":[{"filter":"datum.c<24"},{"calculate":"datum.c+1.06","as":"c2"},{"calculate":"datum.r+1.06","as":"r2"}],"mark":"rect","encoding":{"x":{"field":"c","type":"quantitative","axis":null,"scale":{"domain":[-84.554,77.908]}},"x2":{"field":"c2"},"y":{"field":"r","type":"quantitative","axis":null,"scale":{"domain":[-20.968,107.87],"reverse":true}},"y2":{"field":"r2"},"color":{"field":"v","type":"quantitative","scale":{"domain":[0,12.5,37.5,62.5,87.5,100],"range":["#00007f","#0000ff","#00ffff","#ffff00","#ff0000","#7f0000"]},"legend":{"orient":"none","legendX":1052,"legendY":162,"direction":"horizontal","gradientLength":197,"gradientThickness":17,"values":[0,100],"title":["Cell damage","(% of damaged cells","from total # of cells)"],"titleFont":"DejaVu Sans","titleFontWeight":"bold","titleFontSize":16.7,"titleLineHeight":17.5,"titleAnchor":"middle","titleAlign":"center","titleLimit":400,"titleColor":"black","labelFont":"DejaVu Sans","labelFontWeight":"bold","labelFontSize":16,"labelColor":"black","labelOffset":5,"encoding":{"labels":{"update":{"align":{"value":"center"}}}}}}}},
{"data":{"name":"g"},"transform":[{"calculate":"datum.c+1.12","as":"c2"},{"calculate":"datum.r+1.12","as":"r2"}],"mark":"rect","encoding":{"x":{"field":"c","type":"quantitative","axis":null,"scale":{"domain":[-5.5,324.5]}},"x2":{"field":"c2"},"y":{"field":"r","type":"quantitative","axis":null,"scale":{"domain":[-90.894,169.53],"reverse":true}},"y2":{"field":"r2"},"color":{"field":"v","type":"quantitative","scale":{"domain":[0,12.5,37.5,62.5,87.5,100],"range":["#00007f","#0000ff","#00ffff","#ffff00","#ff0000","#7f0000"]},"legend":null}}},
{"data":{"name":"g"},"transform":[{"filter":"datum.c<24"},{"calculate":"datum.c+1.06","as":"c2"},{"calculate":"datum.r+1.06","as":"r2"}],"mark":"rect","encoding":{"x":{"field":"c","type":"quantitative","axis":null,"scale":{"domain":[-5.7846,156.68]}},"x2":{"field":"c2"},"y":{"field":"r","type":"quantitative","axis":null,"scale":{"domain":[-55.579,73.263],"reverse":true}},"y2":{"field":"r2"},"color":{"field":"v","type":"quantitative","scale":{"domain":[0,12.5,37.5,62.5,87.5,100],"range":["#00007f","#0000ff","#00ffff","#ffff00","#ff0000","#7f0000"]},"legend":{"orient":"none","legendX":338,"legendY":444,"direction":"horizontal","gradientLength":197,"gradientThickness":17,"values":[0,100],"title":["Cell damage","(% of damaged cells","from total # of cells)"],"titleFont":"DejaVu Sans","titleFontWeight":"bold","titleFontSize":16.7,"titleLineHeight":17.5,"titleAnchor":"middle","titleAlign":"center","titleLimit":400,"titleColor":"black","labelFont":"DejaVu Sans","labelFontWeight":"bold","labelFontSize":16,"labelColor":"black","labelOffset":5,"encoding":{"labels":{"update":{"align":{"value":"center"}}}}}}}},
{"data":{"name":"b"},"transform":[{"calculate":"datum.c+1.12","as":"c2"},{"calculate":"datum.r+1.12","as":"r2"}],"mark":"rect","encoding":{"x":{"field":"c","type":"quantitative","axis":null,"scale":{"domain":[-209.2,71.15]}},"x2":{"field":"c2"},"y":{"field":"r","type":"quantitative","axis":null,"scale":{"domain":[-178.4,25.6],"reverse":true}},"y2":{"field":"r2"},"color":{"field":"v","type":"quantitative","scale":{"domain":[0,12.5,37.5,62.5,87.5,100],"range":["#00007f","#0000ff","#00ffff","#ffff00","#ff0000","#7f0000"]},"legend":null}}},
{"encoding":{"x":{"field":"t","type":"quantitative","scale":{"domain":[-64.777,202.43],"nice":false},"axis":{"orient":"bottom","offset":-82,"values":[0,8,16,24,32,40,48,56,64,72,80],"ticks":true,"labels":true,"tickSize":-13,"tickWidth":5,"tickColor":"#262626","labelPadding":38,"labelAngle":-45,"labelAlign":"center","labelBaseline":"middle","labelOffset":7,"labelFont":"Liberation Sans","labelFontSize":23,"labelColor":"#333333","title":"Time (hours)","titleOpacity":1,"titleX":532,"titleY":68,"titleAlign":"center","titleBaseline":"middle","titleFont":"Liberation Sans","titleFontSize":21.8,"titleFontWeight":"bold","titleColor":"#333333"}},"y":{"field":"v","type":"quantitative","scale":{"domain":[-27.83,312.17],"nice":false},"axis":{"orient":"left","offset":-320,"values":[0,20,40,60,80,100],"ticks":true,"labels":true,"tickSize":-13,"tickWidth":5,"tickColor":"#262626","labelPadding":29,"labelOffset":2,"labelFont":"Liberation Sans","labelFontSize":24,"labelColor":"#333333","title":["Cell viability in","mechanically impacted","superficial zone","(% of initial)"],"titleOpacity":1,"titleAngle":0,"titleX":-182,"titleY":739,"titleAlign":"center","titleBaseline":"top","titleFont":"Liberation Sans","titleFontSize":21.7,"titleFontWeight":"bold","titleColor":"#333333","titleLineHeight":27}}},
"layer":[
{"data":{"values":[{"t":-0.4,"v":0},{"t":80.4,"v":0}]},"mark":{"type":"line","strokeWidth":5,"stroke":"#262626"}},
{"data":{"values":[{"t":0,"v":-0.8},{"t":0,"v":102}]},"mark":{"type":"line","strokeWidth":5,"stroke":"#262626"}},
{"data":{"name":"curves"},"mark":{"type":"line","strokeWidth":5},"encoding":{"color":{"field":"k","type":"nominal","scale":{"domain":["b","o","y"],"range":["#0072BD","#D95319","#EDB120"]},"legend":null}}},
{"data":{"name":"exp"},"mark":{"type":"rule","stroke":"#7E2F8E","strokeWidth":2},"encoding":{"y":{"field":"lo","type":"quantitative"},"y2":{"field":"hi"}}},
{"data":{"name":"exp"},"mark":{"type":"tick","orient":"horizontal","size":16,"thickness":2,"color":"#7E2F8E","opacity":1},"encoding":{"y":{"field":"lo","type":"quantitative"}}},
{"data":{"name":"exp"},"mark":{"type":"tick","orient":"horizontal","size":16,"thickness":2,"color":"#7E2F8E","opacity":1},"encoding":{"y":{"field":"hi","type":"quantitative"}}},
{"data":{"name":"exp"},"mark":{"type":"point","shape":"M-1,-1L1,1M-1,1L1,-1","size":144,"filled":false,"stroke":"#7E2F8E","strokeWidth":2.2,"opacity":1}}
]},
{"encoding":{"x":{"field":"t","type":"quantitative","axis":null,"scale":{"domain":[-91.74,61.74],"nice":false}},"y":{"field":"v","type":"quantitative","scale":{"domain":[29.23,225.38],"nice":false},"axis":{"orient":"left","offset":-789,"values":[40,60,80,100],"ticks":true,"tickSize":-23,"tickWidth":9,"tickColor":"#262626","title":null}}},
"layer":[
{"data":{"values":[{"t":0,"v":100.8},{"t":0,"v":35.4}]},"mark":{"type":"line","strokeWidth":9,"stroke":"#262626"}},
{"data":{"name":"curves"},"transform":[{"filter":"datum.t<=16"}],"mark":{"type":"line","strokeWidth":6},"encoding":{"color":{"field":"k","type":"nominal","scale":{"domain":["b","o","y"],"range":["#0072BD","#D95319","#EDB120"]},"legend":null}}},
{"data":{"name":"exp"},"transform":[{"filter":"datum.t<=16"}],"mark":{"type":"rule","stroke":"#7E2F8E","strokeWidth":4},"encoding":{"y":{"field":"lo","type":"quantitative"},"y2":{"field":"hi"}}},
{"data":{"name":"exp"},"transform":[{"filter":"datum.t<=16"}],"mark":{"type":"tick","orient":"horizontal","size":29,"thickness":4,"color":"#7E2F8E","opacity":1},"encoding":{"y":{"field":"lo","type":"quantitative"}}},
{"data":{"name":"exp"},"transform":[{"filter":"datum.t<=16"}],"mark":{"type":"tick","orient":"horizontal","size":29,"thickness":4,"color":"#7E2F8E","opacity":1},"encoding":{"y":{"field":"hi","type":"quantitative"}}},
{"data":{"name":"exp"},"transform":[{"filter":"datum.t<=16"}],"mark":{"type":"point","shape":"M-1,-1L1,1M-1,1L1,-1","size":400,"filled":false,"stroke":"#7E2F8E","strokeWidth":4,"opacity":1}}
]},
{"layer":[
{"mark":{"type":"rule","strokeWidth":1.5,"stroke":"#111111"},"encoding":{"x":{"datum":8,"scale":{"domain":[0,1320],"nice":false}},"x2":{"datum":1310},"y":{"datum":275,"scale":{"domain":[0,1020],"reverse":true,"nice":false}}}},
{"mark":{"type":"rule","strokeWidth":1.5,"stroke":"#111111"},"encoding":{"x":{"datum":8},"x2":{"datum":1306},"y":{"datum":586}}},
{"mark":{"type":"rule","strokeWidth":1.5,"stroke":"#111111"},"encoding":{"x":{"datum":618},"y":{"datum":0},"y2":{"datum":587}}},
{"mark":{"type":"rect","fill":null,"stroke":"black","strokeWidth":4},"encoding":{"x":{"datum":14},"x2":{"datum":117},"y":{"datum":77},"y2":{"datum":136}}},
{"mark":{"type":"rect","fill":null,"stroke":"black","strokeWidth":6},"encoding":{"x":{"datum":43},"x2":{"datum":244},"y":{"datum":162},"y2":{"datum":263}}},
{"mark":{"type":"rect","fill":null,"stroke":"black","strokeWidth":4},"encoding":{"x":{"datum":649},"x2":{"datum":753},"y":{"datum":78},"y2":{"datum":137}}},
{"mark":{"type":"rect","fill":null,"stroke":"black","strokeWidth":6},"encoding":{"x":{"datum":685},"x2":{"datum":885},"y":{"datum":162},"y2":{"datum":264}}},
{"mark":{"type":"rect","fill":null,"stroke":"black","strokeWidth":4},"encoding":{"x":{"datum":18},"x2":{"datum":121},"y":{"datum":351},"y2":{"datum":410}}},
{"mark":{"type":"rect","fill":null,"stroke":"black","strokeWidth":6},"encoding":{"x":{"datum":44},"x2":{"datum":245},"y":{"datum":437},"y2":{"datum":539}}},
{"mark":{"type":"rect","fill":null,"stroke":"black","strokeWidth":3},"encoding":{"x":{"datum":314},"x2":{"datum":399},"y":{"datum":630},"y2":{"datum":831}}},
{"mark":{"type":"rect","fill":null,"stroke":"black","strokeWidth":3.5},"encoding":{"x":{"datum":775},"x2":{"datum":926.5},"y":{"datum":638},"y2":{"datum":990}}},
{"mark":{"type":"rect","fill":"white"},"encoding":{"x":{"datum":984},"x2":{"datum":1107},"y":{"datum":889},"y2":{"datum":905}}},
{"mark":{"type":"rule","strokeWidth":5,"stroke":{"gradient":"linear","x1":0,"y1":0,"x2":0,"y2":1,"stops":[{"offset":0,"color":"#999999"},{"offset":1,"color":"#111111"}]}},"encoding":{"x":{"datum":70},"x2":{"datum":44},"y":{"datum":140},"y2":{"datum":158}}},
{"mark":{"type":"rule","strokeWidth":5,"stroke":{"gradient":"linear","x1":0,"y1":0,"x2":1,"y2":0,"stops":[{"offset":0,"color":"#aaaaaa"},{"offset":1,"color":"#000000"}]}},"encoding":{"x":{"datum":75},"x2":{"datum":227},"y":{"datum":140},"y2":{"datum":159}}},
{"mark":{"type":"rule","strokeWidth":5,"stroke":{"gradient":"linear","x1":0,"y1":0,"x2":0,"y2":1,"stops":[{"offset":0,"color":"#999999"},{"offset":1,"color":"#111111"}]}},"encoding":{"x":{"datum":712},"x2":{"datum":686},"y":{"datum":140},"y2":{"datum":158}}},
{"mark":{"type":"rule","strokeWidth":5,"stroke":{"gradient":"linear","x1":0,"y1":0,"x2":1,"y2":0,"stops":[{"offset":0,"color":"#aaaaaa"},{"offset":1,"color":"#000000"}]}},"encoding":{"x":{"datum":720},"x2":{"datum":870},"y":{"datum":140},"y2":{"datum":159}}},
{"mark":{"type":"rule","strokeWidth":5,"stroke":{"gradient":"linear","x1":0,"y1":0,"x2":0,"y2":1,"stops":[{"offset":0,"color":"#999999"},{"offset":1,"color":"#111111"}]}},"encoding":{"x":{"datum":77},"x2":{"datum":44},"y":{"datum":415},"y2":{"datum":433}}},
{"mark":{"type":"rule","strokeWidth":5,"stroke":{"gradient":"linear","x1":0,"y1":0,"x2":1,"y2":0,"stops":[{"offset":0,"color":"#aaaaaa"},{"offset":1,"color":"#000000"}]}},"encoding":{"x":{"datum":78},"x2":{"datum":227},"y":{"datum":415},"y2":{"datum":434}}},
{"mark":{"type":"rule","strokeWidth":4,"stroke":{"gradient":"linear","x1":0,"y1":0,"x2":1,"y2":0,"stops":[{"offset":0,"color":"#eeeeee"},{"offset":1,"color":"#000000"}]}},"encoding":{"x":{"datum":400},"x2":{"datum":775},"y":{"datum":677},"y2":{"datum":640}}},
{"mark":{"type":"rule","strokeWidth":4,"stroke":{"gradient":"linear","x1":0,"y1":0,"x2":1,"y2":0,"stops":[{"offset":0,"color":"#eeeeee"},{"offset":1,"color":"#000000"}]}},"encoding":{"x":{"datum":400},"x2":{"datum":775},"y":{"datum":677},"y2":{"datum":785}}},
{"mark":{"type":"rule","strokeWidth":2.5,"stroke":"black"},"encoding":{"x":{"datum":628},"x2":{"datum":1306},"y":{"datum":375}}},
{"mark":{"type":"rule","strokeWidth":2.5,"stroke":"black"},"encoding":{"x":{"datum":628},"x2":{"datum":1306},"y":{"datum":433}}},
{"mark":{"type":"rule","strokeWidth":2.5,"stroke":"black"},"encoding":{"x":{"datum":628},"x2":{"datum":1306},"y":{"datum":475}}},
{"mark":{"type":"rule","strokeWidth":2.5,"stroke":"black"},"encoding":{"x":{"datum":628},"x2":{"datum":1306},"y":{"datum":513}}},
{"mark":{"type":"rule","strokeWidth":2.5,"stroke":"black"},"encoding":{"x":{"datum":628},"x2":{"datum":1306},"y":{"datum":568}}},
{"mark":{"type":"rule","strokeWidth":2.5,"stroke":"black"},"encoding":{"x":{"datum":628},"y":{"datum":375},"y2":{"datum":568}}},
{"mark":{"type":"rule","strokeWidth":2.5,"stroke":"black"},"encoding":{"x":{"datum":1306},"y":{"datum":375},"y2":{"datum":568}}},
{"mark":{"type":"rule","strokeWidth":2.5,"stroke":"black"},"encoding":{"x":{"datum":970},"y":{"datum":375},"y2":{"datum":513}}},
{"mark":{"type":"rule","strokeWidth":2.5,"stroke":"black"},"encoding":{"x":{"datum":1083},"y":{"datum":375},"y2":{"datum":513}}},
{"mark":{"type":"rule","strokeWidth":2.5,"stroke":"black"},"encoding":{"x":{"datum":1193},"y":{"datum":375},"y2":{"datum":513}}},
{"mark":{"type":"rule","strokeWidth":4.5,"stroke":"#EDB120"},"encoding":{"x":{"datum":938},"x2":{"datum":1011},"y":{"datum":658}}},
{"mark":{"type":"rule","strokeWidth":4.5,"stroke":"#D95319"},"encoding":{"x":{"datum":938},"x2":{"datum":1011},"y":{"datum":706}}},
{"mark":{"type":"rule","strokeWidth":4.5,"stroke":"#0072BD"},"encoding":{"x":{"datum":938},"x2":{"datum":1011},"y":{"datum":755}}},
{"mark":{"type":"rule","strokeWidth":2,"stroke":"#7E2F8E"},"encoding":{"x":{"datum":995},"y":{"datum":797},"y2":{"datum":828}}},
{"mark":{"type":"rule","strokeWidth":2,"stroke":"#7E2F8E"},"encoding":{"x":{"datum":988},"x2":{"datum":1002},"y":{"datum":797}}},
{"mark":{"type":"rule","strokeWidth":2,"stroke":"#7E2F8E"},"encoding":{"x":{"datum":988},"x2":{"datum":1002},"y":{"datum":828}}},
{"mark":{"type":"point","shape":"M-1,-1L1,1M-1,1L1,-1","size":70,"filled":false,"stroke":"#7E2F8E","strokeWidth":2,"opacity":1},"encoding":{"x":{"datum":995},"y":{"datum":812}}},
{"mark":{"type":"rule","strokeWidth":2.5,"stroke":"black"},"encoding":{"x":{"datum":1026},"x2":{"datum":1011},"y":{"datum":872},"y2":{"datum":886}}},
{"mark":{"type":"rule","strokeWidth":2.5,"stroke":"black"},"encoding":{"x":{"datum":1011},"y":{"datum":876},"y2":{"datum":887}}},
{"mark":{"type":"rule","strokeWidth":2.5,"stroke":"black"},"encoding":{"x":{"datum":1010},"x2":{"datum":1021},"y":{"datum":886}}},
{"mark":{"type":"text","style":"l"},"encoding":{"x":{"datum":8},"y":{"datum":26},"text":{"value":"(A)"}}},
{"mark":{"type":"text","style":"h"},"encoding":{"x":{"datum":63},"y":{"datum":27},"text":{"value":"Cell damage at day 0"}}},
{"mark":{"type":"text","style":"e"},"encoding":{"x":{"datum":231},"y":{"datum":59},"text":{"value":"ε"}}},
{"mark":{"type":"text","style":"s"},"encoding":{"x":{"datum":246},"y":{"datum":66},"text":{"value":"dmg,max"}}},
{"mark":{"type":"text","style":"h"},"encoding":{"x":{"datum":337},"y":{"datum":58},"text":{"value":"= 100%"}}},
{"mark":{"type":"text","style":"l"},"encoding":{"x":{"datum":621},"y":{"datum":20},"text":{"value":"(B)"}}},
{"mark":{"type":"text","style":"h"},"encoding":{"x":{"datum":686},"y":{"datum":25},"text":{"value":"Cell damage at day 0"}}},
{"mark":{"type":"text","style":"e"},"encoding":{"x":{"datum":862},"y":{"datum":58},"text":{"value":"ε"}}},
{"mark":{"type":"text","style":"s"},"encoding":{"x":{"datum":877},"y":{"datum":65},"text":{"value":"dmg,max"}}},
{"mark":{"type":"text","style":"h"},"encoding":{"x":{"datum":968},"y":{"datum":57},"text":{"value":"= 150%"}}},
{"mark":{"type":"text","style":"l"},"encoding":{"x":{"datum":7},"y":{"datum":292},"text":{"value":"(C)"}}},
{"mark":{"type":"text","style":"h"},"encoding":{"x":{"datum":62},"y":{"datum":294},"text":{"value":"Cell damage at day 0"}}},
{"mark":{"type":"text","style":"e"},"encoding":{"x":{"datum":231},"y":{"datum":333},"text":{"value":"ε"}}},
{"mark":{"type":"text","style":"s"},"encoding":{"x":{"datum":246},"y":{"datum":340},"text":{"value":"dmg,max"}}},
{"mark":{"type":"text","style":"h"},"encoding":{"x":{"datum":337},"y":{"datum":332},"text":{"value":"= 200%"}}},
{"mark":{"type":"text","style":"l"},"encoding":{"x":{"datum":622},"y":{"datum":289},"text":{"value":"(D)"}}},
{"mark":{"type":"text","style":"m"},"encoding":{"x":{"datum":979},"y":{"datum":290},"text":{"value":"Average cell damage (day 0) &"}}},
{"mark":{"type":"text","style":"m"},"encoding":{"x":{"datum":979},"y":{"datum":322},"text":{"value":"viability (day 3) in mechanically impacted"}}},
{"mark":{"type":"text","style":"m"},"encoding":{"x":{"datum":983},"y":{"datum":355},"text":{"value":"superficial zone"}}},
{"mark":{"type":"text","style":"e"},"encoding":{"x":{"datum":749},"y":{"datum":401},"text":{"value":"ε"}}},
{"mark":{"type":"text","style":"s"},"encoding":{"x":{"datum":765},"y":{"datum":408},"text":{"value":"dmg,max"}}},
{"mark":{"type":"text","style":"b"},"encoding":{"x":{"datum":1025},"y":{"datum":405},"text":{"value":"100%"}}},
{"mark":{"type":"text","style":"b"},"encoding":{"x":{"datum":1137},"y":{"datum":405},"text":{"value":"150%"}}},
{"mark":{"type":"text","style":"b"},"encoding":{"x":{"datum":1250},"y":{"datum":405},"text":{"value":"200%"}}},
{"mark":{"type":"text","style":"c"},"encoding":{"x":{"datum":795},"y":{"datum":454},"text":{"value":"Cell damage"}}},
{"mark":{"type":"text","style":"c"},"encoding":{"x":{"datum":1027},"y":{"datum":453},"text":{"value":"65%"}}},
{"mark":{"type":"text","style":"r"},"encoding":{"x":{"datum":1137},"y":{"datum":453},"text":{"value":"56%"}}},
{"mark":{"type":"text","style":"c"},"encoding":{"x":{"datum":1250},"y":{"datum":454},"text":{"value":"52%"}}},
{"mark":{"type":"text","style":"c"},"encoding":{"x":{"datum":793},"y":{"datum":493},"text":{"value":"Cell viability"}}},
{"mark":{"type":"text","style":"c"},"encoding":{"x":{"datum":1027},"y":{"datum":493},"text":{"value":"35%"}}},
{"mark":{"type":"text","style":"r"},"encoding":{"x":{"datum":1137},"y":{"datum":494},"text":{"value":"44%"}}},
{"mark":{"type":"text","style":"c"},"encoding":{"x":{"datum":1250},"y":{"datum":494},"text":{"value":"48%"}}},
{"mark":{"type":"text","style":"h"},"encoding":{"x":{"datum":670},"y":{"datum":540},"text":{"value":"Experimentally measured viability"}}},
{"mark":{"type":"text","style":"c"},"encoding":{"x":{"datum":1250},"y":{"datum":541},"text":{"value":"46%"}}},
{"mark":{"type":"text","style":"l"},"encoding":{"x":{"datum":10},"y":{"datum":603},"text":{"value":"(E)"}}},
{"mark":{"type":"text","style":"h"},"encoding":{"x":{"datum":143},"y":{"datum":603},"text":{"value":"Cell viability (healthy + damaged) when"}}},
{"mark":{"type":"text","style":"e"},"encoding":{"x":{"datum":678},"y":{"datum":605},"text":{"value":"ε"}}},
{"mark":{"type":"text","style":"s"},"encoding":{"x":{"datum":694},"y":{"datum":612},"text":{"value":"dmg,max"}}},
{"mark":{"type":"text","style":"h"},"encoding":{"x":{"datum":786},"y":{"datum":603},"text":{"value":"= 150%"}}},
{"mark":{"type":"text","style":"k"},"encoding":{"x":{"datum":1014},"y":{"datum":657},"text":{"value":"k"}}},
{"mark":{"type":"text","style":"n"},"encoding":{"x":{"datum":1028},"y":{"datum":664},"text":{"value":"c,dmg"}}},
{"mark":{"type":"text","style":"a"},"encoding":{"x":{"datum":1075},"y":{"datum":663},"text":{"value":"→"}}},
{"mark":{"type":"text","style":"n"},"encoding":{"x":{"datum":1101},"y":{"datum":664},"text":{"value":"c,dead"}}},
{"mark":{"type":"text","style":"q"},"encoding":{"x":{"datum":1153},"y":{"datum":657},"text":{"value":"= 6.9 x 10"}}},
{"mark":{"type":"text","style":"u"},"encoding":{"x":{"datum":1248},"y":{"datum":650},"text":{"value":"-5"}}},
{"mark":{"type":"text","style":"q"},"encoding":{"x":{"datum":1269},"y":{"datum":657},"text":{"value":"s"}}},
{"mark":{"type":"text","style":"w"},"encoding":{"x":{"datum":1280},"y":{"datum":650},"text":{"value":"-1"}}},
{"mark":{"type":"text","style":"k"},"encoding":{"x":{"datum":1014},"y":{"datum":705},"text":{"value":"k"}}},
{"mark":{"type":"text","style":"n"},"encoding":{"x":{"datum":1028},"y":{"datum":712},"text":{"value":"c,dmg"}}},
{"mark":{"type":"text","style":"a"},"encoding":{"x":{"datum":1075},"y":{"datum":711},"text":{"value":"→"}}},
{"mark":{"type":"text","style":"n"},"encoding":{"x":{"datum":1101},"y":{"datum":712},"text":{"value":"c,dead"}}},
{"mark":{"type":"text","style":"q"},"encoding":{"x":{"datum":1153},"y":{"datum":705},"text":{"value":"= 4.6 x 10"}}},
{"mark":{"type":"text","style":"u"},"encoding":{"x":{"datum":1248},"y":{"datum":698},"text":{"value":"-5"}}},
{"mark":{"type":"text","style":"q"},"encoding":{"x":{"datum":1269},"y":{"datum":705},"text":{"value":"s"}}},
{"mark":{"type":"text","style":"w"},"encoding":{"x":{"datum":1280},"y":{"datum":698},"text":{"value":"-1"}}},
{"mark":{"type":"text","style":"k"},"encoding":{"x":{"datum":1014},"y":{"datum":755},"text":{"value":"k"}}},
{"mark":{"type":"text","style":"n"},"encoding":{"x":{"datum":1028},"y":{"datum":762},"text":{"value":"c,dmg"}}},
{"mark":{"type":"text","style":"a"},"encoding":{"x":{"datum":1075},"y":{"datum":761},"text":{"value":"→"}}},
{"mark":{"type":"text","style":"n"},"encoding":{"x":{"datum":1101},"y":{"datum":762},"text":{"value":"c,dead"}}},
{"mark":{"type":"text","style":"q"},"encoding":{"x":{"datum":1153},"y":{"datum":755},"text":{"value":"= 13.9 x 10"}}},
{"mark":{"type":"text","style":"u"},"encoding":{"x":{"datum":1260},"y":{"datum":748},"text":{"value":"-5"}}},
{"mark":{"type":"text","style":"q"},"encoding":{"x":{"datum":1281},"y":{"datum":755},"text":{"value":"s"}}},
{"mark":{"type":"text","style":"w"},"encoding":{"x":{"datum":1292},"y":{"datum":748},"text":{"value":"-1"}}},
{"mark":{"type":"text","style":"x"},"encoding":{"x":{"datum":1012},"y":{"datum":812},"text":{"value":"Experimental data"}}},
{"mark":{"type":"text","style":"z"},"encoding":{"x":{"datum":958},"y":{"datum":862},"text":{"value":"Mechanically impacted superficial zone"}}}
]},
{"data":{"name":"b"},"transform":[{"filter":"datum.c<24 && datum.r==0"},{"calculate":"datum.c+1.06","as":"c2"},{"calculate":"datum.r+1","as":"r2"}],"mark":"rect","encoding":{"x":{"field":"c","type":"quantitative","axis":null,"scale":{"domain":[-210.06,70.31]}},"x2":{"field":"c2"},"y":{"field":"r","type":"quantitative","axis":null,"scale":{"domain":[-127.7,18],"reverse":true}},"y2":{"field":"r2"},"color":{"field":"v","type":"quantitative","scale":{"domain":[0,12.5,37.5,62.5,87.5,100],"range":["#00007f","#0000ff","#00ffff","#ffff00","#ff0000","#7f0000"]},"legend":null}}}
]}
